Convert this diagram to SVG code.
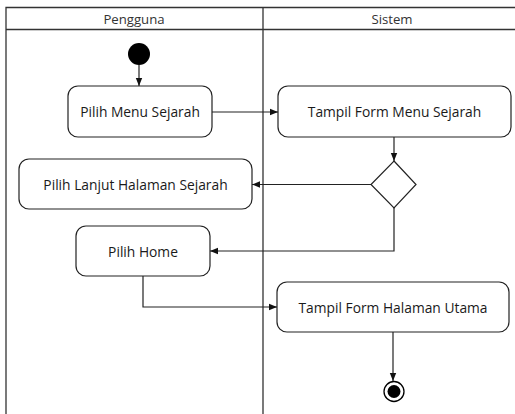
<svg xmlns="http://www.w3.org/2000/svg" width="515" height="414" viewBox="0 0 515 414">
  <style>
    .lane { fill: none; stroke: #333; stroke-width: 1.3; }
    .act { fill: #fff; stroke: #222; stroke-width: 1.2; }
    .lbl { font-family: "Open Sans", "Noto Sans", sans-serif; font-size: 13.8px; fill: #1a1a1a; text-anchor: middle; dominant-baseline: central; }
    .hdr { font-family: "Open Sans", "Noto Sans", sans-serif; font-size: 13.2px; fill: #333; text-anchor: middle; dominant-baseline: central; }
    .flow { fill: none; stroke: #222; stroke-width: 1.2; marker-end: url(#arrow); }
  </style>
  <defs>
    <marker id="arrow" viewBox="0 0 10 10" refX="10" refY="5" markerWidth="8" markerHeight="8" markerUnits="userSpaceOnUse" orient="auto">
      <path d="M0,1 L10,5 L0,9 Z" fill="#111"/>
    </marker>
  </defs>
  <rect width="515" height="414" fill="#fff"/>

  <!-- swimlanes -->
  <g id="lanes">
    <path class="lane" d="M6,414 V7.5 H515 M6,29.5 H515 M263,7.5 V414"/>
    <text class="hdr" x="134" y="18.5">Pengguna</text>
    <text class="hdr" x="392" y="18.5">Sistem</text>
  </g>

  <!-- connectors -->
  <g id="connectors">
    <path class="flow" d="M139,65 V86"/>
    <path class="flow" d="M212,112 H278"/>
    <path class="flow" d="M394,137 V161"/>
    <path class="flow" d="M371,184.5 H252"/>
    <path class="flow" d="M394,208 V251 H210"/>
    <path class="flow" d="M143,276 V307 H277"/>
    <path class="flow" d="M393,332 V381"/>
  </g>

  <g id="start">
    <circle cx="139" cy="54" r="11" fill="#000"/>
  </g>

  <g id="pilih-menu-sejarah">
    <rect class="act" x="68" y="86" width="144" height="51" rx="10"/>
    <text class="lbl" x="140" y="111.5">Pilih Menu Sejarah</text>
  </g>

  <g id="tampil-form-menu-sejarah">
    <rect class="act" x="278" y="86" width="233" height="51" rx="10"/>
    <text class="lbl" x="394.5" y="111.5">Tampil Form Menu Sejarah</text>
  </g>

  <g id="decision">
    <path class="act" d="M394,161 L416,184.5 L394,208 L371,184.5 Z"/>
  </g>

  <g id="pilih-lanjut-halaman-sejarah">
    <rect class="act" x="19" y="159" width="233" height="50" rx="10"/>
    <text class="lbl" x="135.5" y="184">Pilih Lanjut Halaman Sejarah</text>
  </g>

  <g id="pilih-home">
    <rect class="act" x="76" y="226" width="134" height="50" rx="10"/>
    <text class="lbl" x="143" y="251">Pilih Home</text>
  </g>

  <g id="tampil-form-halaman-utama">
    <rect class="act" x="277" y="282" width="232" height="50" rx="10"/>
    <text class="lbl" x="393" y="307">Tampil Form Halaman Utama</text>
  </g>

  <g id="end">
    <circle cx="394" cy="391.5" r="10" fill="#fff" stroke="#000" stroke-width="1.3"/>
    <circle cx="394" cy="391.5" r="6.5" fill="#000"/>
  </g>
</svg>
